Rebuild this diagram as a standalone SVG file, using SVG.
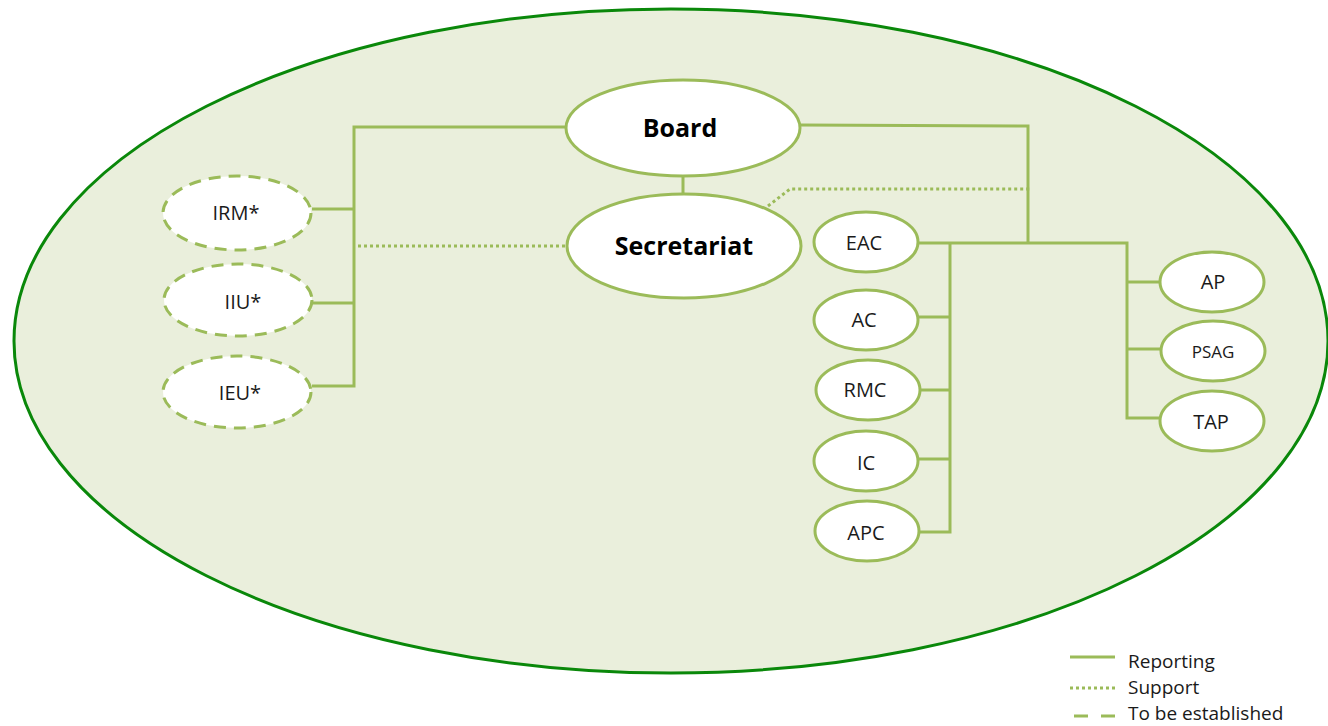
<svg xmlns="http://www.w3.org/2000/svg" width="1328" height="726" viewBox="0 0 1328 726">
  <style>
    .node { fill: #ffffff; stroke: #9bbb59; stroke-width: 3; }
    .pending { fill: #ffffff; stroke: #9bbb59; stroke-width: 3; stroke-dasharray: 12 8; }
    .report { fill: none; stroke: #9bbb59; stroke-width: 3; }
    .support { fill: none; stroke: #9bbb59; stroke-width: 3; stroke-dasharray: 3 3; }
    .label { font-family: "Open Sans", "Noto Sans", sans-serif; font-size: 20px; fill: #1a1a1a; text-anchor: middle; }
    .big { font-family: "Open Sans", "Noto Sans", sans-serif; font-size: 25px; font-weight: bold; fill: #000000; text-anchor: middle; }
    .legend { font-family: "Open Sans", "Noto Sans", sans-serif; font-size: 19px; fill: #1a1a1a; }
  </style>

  <rect width="1328" height="726" fill="#ffffff"/>

  <!-- outer boundary -->
  <ellipse cx="671" cy="341" rx="657" ry="332" fill="#eaefdc" stroke="#0a880a" stroke-width="3"/>

  <!-- connectors -->
  <g id="connectors">
    <polyline class="report" points="566,127 354,127 354,386 312,386"/>
    <line class="report" x1="312" y1="209" x2="354" y2="209"/>
    <line class="report" x1="312" y1="303" x2="354" y2="303"/>
    <line class="report" x1="683" y1="176" x2="683" y2="194"/>
    <polyline class="report" points="800,125 1028,126 1028,243"/>
    <polyline class="report" points="918,243 1127,243 1127,418 1161,418"/>
    <line class="report" x1="1127" y1="282" x2="1161" y2="282"/>
    <line class="report" x1="1127" y1="349" x2="1161" y2="349"/>
    <polyline class="report" points="950,243 950,532 918,532"/>
    <line class="report" x1="918" y1="317" x2="950" y2="317"/>
    <line class="report" x1="918" y1="390" x2="950" y2="390"/>
    <line class="report" x1="918" y1="459" x2="950" y2="459"/>
    <line class="support" x1="358" y1="246" x2="566" y2="246"/>
    <polyline class="support" points="768,206 790,189 1030,189"/>
  </g>

  <g id="board">
    <ellipse class="node" cx="683" cy="128" rx="117" ry="48"/>
    <text class="big" x="680" y="137">Board</text>
  </g>
  <g id="secretariat">
    <ellipse class="node" cx="684" cy="246" rx="117" ry="52"/>
    <text class="big" x="684" y="255">Secretariat</text>
  </g>

  <g id="irm">
    <ellipse class="pending" cx="237" cy="213" rx="74" ry="37"/>
    <text class="label" x="236" y="220">IRM*</text>
  </g>
  <g id="iiu">
    <ellipse class="pending" cx="238" cy="300" rx="74" ry="36"/>
    <text class="label" x="243" y="309">IIU*</text>
  </g>
  <g id="ieu">
    <ellipse class="pending" cx="237" cy="392" rx="74" ry="36"/>
    <text class="label" x="240" y="400">IEU*</text>
  </g>

  <g id="eac">
    <ellipse class="node" cx="866" cy="242" rx="52" ry="30"/>
    <text class="label" x="864" y="250">EAC</text>
  </g>
  <g id="ac">
    <ellipse class="node" cx="866" cy="320" rx="52" ry="30"/>
    <text class="label" x="864" y="327">AC</text>
  </g>
  <g id="rmc">
    <ellipse class="node" cx="868" cy="390" rx="52" ry="30"/>
    <text class="label" x="865" y="397">RMC</text>
  </g>
  <g id="ic">
    <ellipse class="node" cx="866" cy="461" rx="52" ry="30"/>
    <text class="label" x="866" y="470">IC</text>
  </g>
  <g id="apc">
    <ellipse class="node" cx="867" cy="531" rx="52" ry="30"/>
    <text class="label" x="866" y="540">APC</text>
  </g>

  <g id="ap">
    <ellipse class="node" cx="1212" cy="282" rx="52" ry="30"/>
    <text class="label" x="1213" y="289">AP</text>
  </g>
  <g id="psag">
    <ellipse class="node" cx="1213" cy="351" rx="52" ry="30"/>
    <text class="label" x="1213" y="358" style="font-size:17px">PSAG</text>
  </g>
  <g id="tap">
    <ellipse class="node" cx="1212" cy="421" rx="52" ry="30"/>
    <text class="label" x="1211" y="429">TAP</text>
  </g>

  <!-- key -->
  <g id="legend">
    <line class="report" x1="1070" y1="657" x2="1115" y2="657"/>
    <text class="legend" x="1128" y="668">Reporting</text>
    <line class="support" x1="1070" y1="688" x2="1115" y2="688"/>
    <text class="legend" x="1128" y="694">Support</text>
    <line class="report" x1="1074" y1="716" x2="1115" y2="716" stroke-dasharray="14 13"/>
    <text class="legend" x="1128" y="720">To be established</text>
  </g>
</svg>
